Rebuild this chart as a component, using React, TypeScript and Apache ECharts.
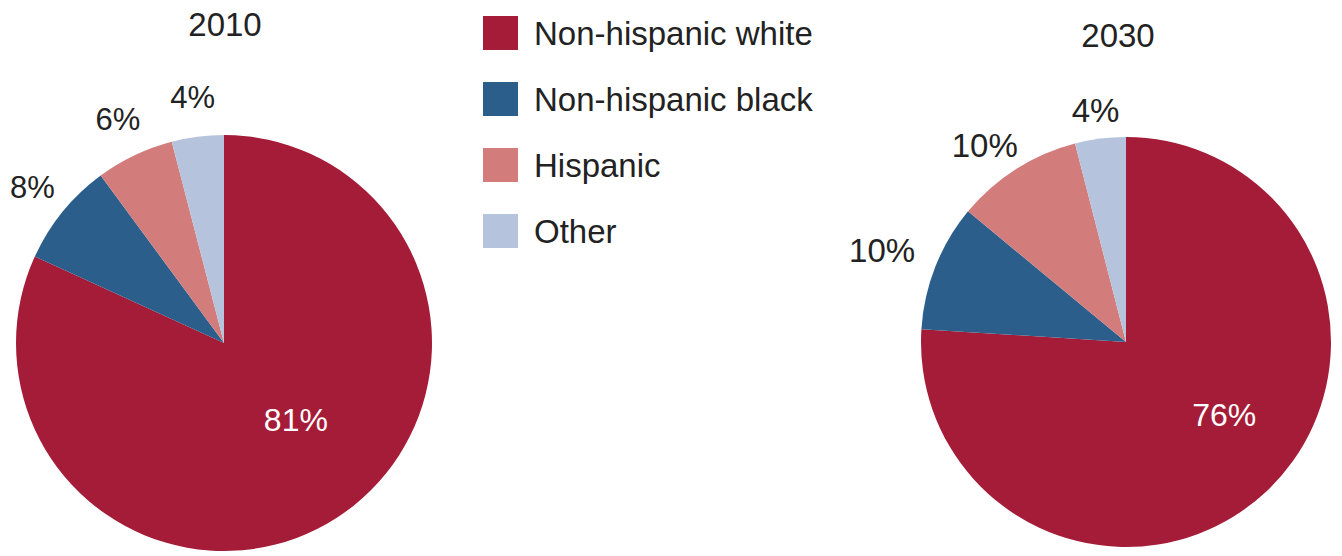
import React, { useEffect, useRef } from 'react';
import * as echarts from 'echarts';

// ---- data ----
const categories = ['Non-hispanic white', 'Non-hispanic black', 'Hispanic', 'Other'];
const values2010 = [81, 8, 6, 4];
const values2030 = [76, 10, 10, 4];
const years = ['2010', '2030'];

// ---- styles ----
const palette = ['#A51C38', '#2B5E8B', '#D27C7C', '#B5C3DC'];
const FONT = '"Liberation Sans", Arial, Helvetica, sans-serif';
const TEXT = '#222222';

const nudge2010 = [[14, -13], [0, 0], [0, 0], [0, 0]];
const nudge2030 = [[26, -4], [-18, -2], [-11, 9], [0, 10]];

function mainSeries(values: number[], center: number[], radius: number, fontSize: number, nudges: number[][]) {
  return {
    type: 'pie',
    center,
    radius,
    startAngle: 90,
    clockwise: true,
    silent: true,
    emphasis: { disabled: true },
    itemStyle: { borderWidth: 0 },
    labelLine: { show: false },
    label: { show: true, position: 'inside', color: '#ffffff', fontSize, fontFamily: FONT, formatter: '{c}%' },
    data: values.map((v, i) => ({
      value: v,
      name: categories[i],
      itemStyle: { color: palette[i] },
      label: i === 0 ? { show: true, offset: nudges[i] } : { show: false },
    })),
  };
}

function ghostSeries(values: number[], center: number[], radius: number[], fontSize: number, nudges: number[][]) {
  return {
    type: 'pie',
    center,
    radius,
    startAngle: 90,
    clockwise: true,
    silent: true,
    emphasis: { disabled: true },
    itemStyle: { borderWidth: 0, color: 'rgba(0,0,0,0)' },
    labelLine: { show: false },
    label: { show: true, position: 'inside', color: TEXT, fontSize, fontFamily: FONT, formatter: '{c}%' },
    data: values.map((v, i) => ({
      value: v,
      name: categories[i],
      itemStyle: { color: 'rgba(0,0,0,0)' },
      label: i === 0 ? { show: false } : { show: true, offset: nudges[i] },
    })),
  };
}

export default function App() {
  const ref = useRef<HTMLDivElement>(null);
  useEffect(() => {
    if (!ref.current) return;
    const chart = echarts.init(ref.current, null, { renderer: 'svg' });
    chart.setOption({
      animation: false,
      backgroundColor: '#ffffff',
      title: [
        { text: years[0], left: 220, top: 3, textAlign: 'center', textStyle: { fontSize: 33, fontWeight: 'normal', color: TEXT, fontFamily: FONT } },
        { text: years[1], left: 1113, top: 14, textAlign: 'center', textStyle: { fontSize: 33, fontWeight: 'normal', color: TEXT, fontFamily: FONT } },
      ],
      legend: {
        orient: 'vertical',
        left: 478,
        top: 11,
        itemWidth: 35,
        itemHeight: 34,
        itemGap: 32,
        icon: 'rect',
        selectedMode: false,
        data: categories,
        textStyle: { fontSize: 33, color: TEXT, fontFamily: FONT, padding: [0, 0, 0, 11] },
      },
      series: [
        mainSeries(values2010, [224, 343], 208, 32, nudge2010),
        mainSeries(values2030, [1126, 342], 205, 32, nudge2030),
        ghostSeries(values2010, [224, 343], [224, 264], 31, nudge2010),
        ghostSeries(values2030, [1126, 342], [220, 260], 33, nudge2030),
      ],
    });
    return () => chart.dispose();
  }, []);
  return <div ref={ref} style={{ position: 'absolute', left: 0, top: 0, width: 1342, height: 556 }} />;
}
